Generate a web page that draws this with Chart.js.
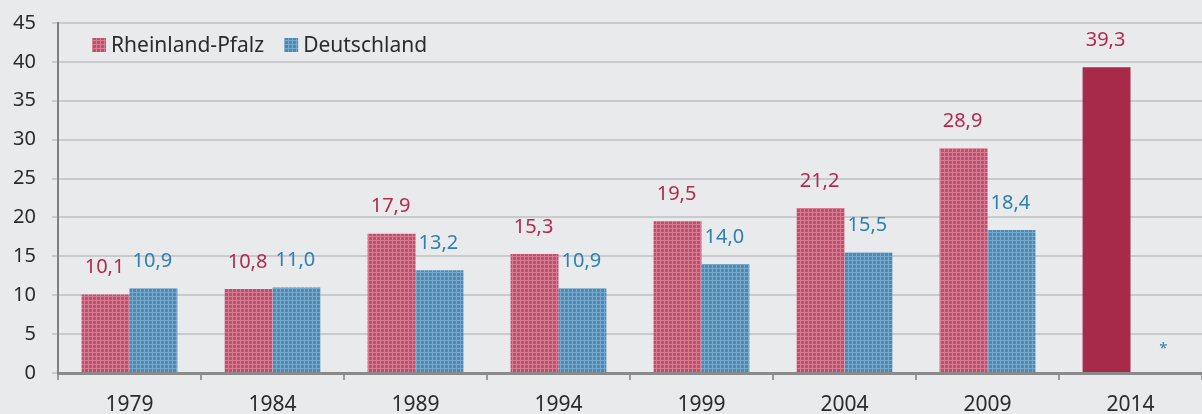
<!DOCTYPE html>
<html>
<head>
<meta charset="utf-8">
<script src="https://cdn.jsdelivr.net/npm/chart.js@4/dist/chart.umd.min.js"></script>
<style>
  html, body { margin: 0; padding: 0; background: #e9eaec; }
  #wrap { width: 1202px; height: 414px; }
</style>
</head>
<body>
<div id="wrap"><canvas id="chart" width="1202" height="414"></canvas></div>
<script>
// Chart data
const years = ['1979', '1984', '1989', '1994', '1999', '2004', '2009', '2014'];
const rheinlandPfalz = [10.1, 10.8, 17.9, 15.3, 19.5, 21.2, 28.9, 39.3];
const deutschland = [10.9, 11.0, 13.2, 10.9, 14.0, 15.5, 18.4, null];
const seriesNames = ['Rheinland-Pfalz', 'Deutschland'];

const FONT = '"Noto Sans", "Open Sans", sans-serif';
const RED_TEXT = '#b3294f';
const BLUE_TEXT = '#2f7fb0';

// Checkered fill like the print original
function makePattern(base, line) {
    const c = document.createElement('canvas');
    c.width = 4;
    c.height = 4;
    const g = c.getContext('2d');
    g.fillStyle = base;
    g.fillRect(0, 0, 4, 4);
    g.fillStyle = line;
    g.fillRect(0, 0, 4, 1);
    g.fillRect(0, 0, 1, 4);
    return g.createPattern(c, 'repeat');
}

const redPattern = makePattern('#c24d6c', '#d47d93');
const bluePattern = makePattern('#4a89b3', '#78a9cb');

// last Rheinland-Pfalz bar is solid
const redFills = rheinlandPfalz.map((v, i) => i === years.length - 1 ? '#a82a4a' : redPattern);

// Value labels above bars, plus the asterisk for missing data
const valueLabels = {
    id: 'valueLabels',
    afterDatasetsDraw(chart) {
        const ctx = chart.ctx;
        const yScale = chart.scales.y;
        ctx.save();
        ctx.textAlign = 'center';
        ctx.textBaseline = 'middle';
        chart.data.datasets.forEach(function(ds, di) {
            const meta = chart.getDatasetMeta(di);
            ctx.fillStyle = di === 0 ? RED_TEXT : BLUE_TEXT;
            meta.data.forEach(function(bar, i) {
                const v = ds.data[i];
                if (v === null) {
                    ctx.font = '15px ' + FONT;
                    ctx.fillText('*', bar.x + 9, yScale.getPixelForValue(3.1));
                    return;
                }
                ctx.font = '20px ' + FONT;
                const txt = v.toFixed(1).replace('.', ',');
                ctx.fillText(txt, bar.x - 1, bar.y - 27);
            });
        });
        ctx.restore();
    }
};

// Legend drawn inside the plot area (top left)
const insideLegend = {
    id: 'insideLegend',
    afterDraw(chart) {
        const ctx = chart.ctx;
        ctx.save();
        ctx.font = '21px ' + FONT;
        ctx.textBaseline = 'middle';
        let x = 92;
        const y = 45;
        [redPattern, bluePattern].forEach(function(fill, i) {
            ctx.fillStyle = fill;
            ctx.fillRect(x, y - 7, 14, 14);
            ctx.fillStyle = '#2b2b2b';
            ctx.fillText(seriesNames[i], x + 19, y + 1);
            x += 19 + ctx.measureText(seriesNames[i]).width + 20;
        });
        ctx.restore();
    }
};

new Chart(document.getElementById('chart'), {
    type: 'bar',
    data: {
        labels: years,
        datasets: [
            {
                label: seriesNames[0],
                data: rheinlandPfalz,
                backgroundColor: redFills,
                borderWidth: 0,
                categoryPercentage: 0.67,
                barPercentage: 1.0
            },
            {
                label: seriesNames[1],
                data: deutschland,
                backgroundColor: bluePattern,
                borderWidth: 0,
                categoryPercentage: 0.67,
                barPercentage: 1.0
            }
        ]
    },
    options: {
        responsive: false,
        animation: false,
        layout: { padding: { top: 23, right: 0, left: 0, bottom: 0 } },
        plugins: {
            legend: { display: false },
            tooltip: { enabled: false }
        },
        scales: {
            x: {
                grid: {
                    offset: true,
                    drawOnChartArea: false,
                    drawTicks: true,
                    tickLength: 7,
                    color: '#9a9a9a',
                    lineWidth: 2
                },
                border: { color: '#8a8a8a', width: 3 },
                ticks: {
                    color: '#2b2b2b',
                    font: { size: 21, family: FONT },
                    padding: 12
                },
                afterFit: function(scale) { scale.height = 41; }
            },
            y: {
                min: 0,
                max: 45,
                ticks: {
                    stepSize: 5,
                    color: '#2b2b2b',
                    font: { size: 20, family: FONT },
                    padding: 16
                },
                grid: {
                    color: '#c9cacd',
                    lineWidth: 2,
                    tickLength: 6
                },
                border: { color: '#808080', width: 2 },
                afterFit: function(scale) {
                    scale.width = 58;
                    // let the plot start right at the padding
                    scale.paddingTop = 0;
                    scale.paddingBottom = 0;
                }
            }
        }
    },
    plugins: [valueLabels, insideLegend]
});
</script>
</body>
</html>
